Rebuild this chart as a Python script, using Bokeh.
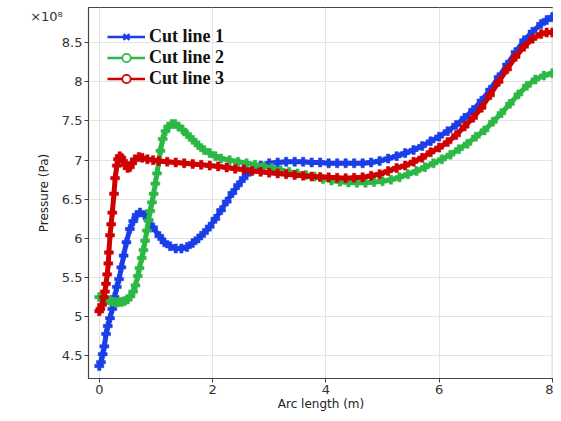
from bokeh.plotting import figure
from bokeh.models import (Range1d, FixedTicker, NumeralTickFormatter, Legend, LegendItem, Label)
from bokeh.embed import file_html
from bokeh.resources import INLINE

# ---- data (pressure in units of 1e8 Pa) ----
x1 = [0, 0.03, 0.06, 0.09, 0.12, 0.15, 0.19, 0.23, 0.27, 0.31, 0.35, 0.39, 0.43, 0.48, 0.54, 0.6,
      0.66, 0.72, 0.8, 0.87, 0.95, 1.06, 1.15, 1.25, 1.35, 1.45, 1.55, 1.65, 1.75, 1.85, 1.95, 2.05,
      2.15, 2.25, 2.35, 2.45, 2.55, 2.65, 2.75, 2.85, 3.0, 3.15, 3.3, 3.45, 3.6, 3.75, 3.9, 4.05,
      4.2, 4.35, 4.5, 4.65, 4.8, 4.95, 5.1, 5.25, 5.4, 5.55, 5.7, 5.85, 6.0, 6.15, 6.3, 6.45, 6.6,
      6.75, 6.9, 7.05, 7.2, 7.35, 7.5, 7.65, 7.8, 7.9, 8.0]
y1 = [4.37, 4.42, 4.52, 4.62, 4.78, 4.88, 4.98, 5.1, 5.25, 5.38, 5.48, 5.63, 5.78, 5.95, 6.12, 6.22,
      6.3, 6.33, 6.3, 6.23, 6.14, 6.03, 5.95, 5.9, 5.87, 5.87, 5.89, 5.94, 6.0, 6.07, 6.15, 6.25,
      6.36, 6.47, 6.58, 6.68, 6.77, 6.85, 6.9, 6.93, 6.96, 6.97, 6.98, 6.98, 6.98, 6.97, 6.97, 6.96,
      6.96, 6.96, 6.96, 6.96, 6.97, 6.99, 7.02, 7.05, 7.09, 7.13, 7.18, 7.24, 7.3, 7.37, 7.45, 7.54, 7.64,
      7.76, 7.9, 8.06, 8.22, 8.38, 8.53, 8.64, 8.74, 8.79, 8.83]

x2 = [0, 0.05, 0.1, 0.15, 0.2, 0.25, 0.3, 0.35, 0.4, 0.45, 0.5, 0.55, 0.6, 0.64, 0.68, 0.71, 0.75,
      0.78, 0.81, 0.84, 0.87, 0.9, 0.93, 0.96, 0.99, 1.02, 1.05, 1.08, 1.12, 1.17, 1.22, 1.28, 1.34,
      1.4, 1.47, 1.55, 1.65, 1.75, 1.85, 1.95, 2.05, 2.15, 2.3, 2.45, 2.6, 2.75, 2.9, 3.05, 3.2, 3.35,
      3.5, 3.65, 3.8, 3.95, 4.1, 4.25, 4.4, 4.55, 4.7, 4.85, 5.0, 5.15, 5.3, 5.45, 5.6, 5.75, 5.9,
      6.05, 6.2, 6.35, 6.5, 6.65, 6.8, 6.95, 7.1, 7.25, 7.4, 7.55, 7.7, 7.85, 8.0]
y2 = [5.25, 5.24, 5.22, 5.21, 5.2, 5.19, 5.185, 5.185, 5.19, 5.2, 5.22, 5.26, 5.32, 5.4, 5.52, 5.62, 5.75,
      5.85, 5.97, 6.1, 6.23, 6.35, 6.46, 6.57, 6.7, 6.83, 6.98, 7.12, 7.27, 7.37, 7.43, 7.46, 7.46,
      7.43, 7.39, 7.33, 7.26, 7.19, 7.13, 7.09, 7.05, 7.02, 7.0, 6.98, 6.96, 6.94, 6.92, 6.9, 6.87, 6.85,
      6.83, 6.81, 6.79, 6.76, 6.74, 6.725, 6.715, 6.71, 6.71, 6.72, 6.73, 6.75, 6.78, 6.82, 6.86, 6.91, 6.96,
      7.01, 7.07, 7.14, 7.21, 7.3, 7.38, 7.49, 7.6, 7.72, 7.84, 7.95, 8.03, 8.08, 8.11]

x3 = [0, 0.02, 0.05, 0.08, 0.1, 0.12, 0.14, 0.16, 0.17, 0.19, 0.21, 0.23, 0.26, 0.28, 0.31, 0.33,
      0.36, 0.39, 0.42, 0.46, 0.5, 0.54, 0.58, 0.63, 0.7, 0.76, 0.85, 0.95, 1.05, 1.2, 1.35, 1.5,
      1.65, 1.8, 1.95, 2.1, 2.25, 2.4, 2.55, 2.7, 2.85, 3.0, 3.15, 3.3, 3.45, 3.6, 3.75, 3.9, 4.05,
      4.2, 4.35, 4.5, 4.65, 4.8, 4.95, 5.1, 5.25, 5.4, 5.55, 5.7, 5.85, 6.0, 6.15, 6.3, 6.45, 6.6,
      6.75, 6.9, 7.05, 7.2, 7.35, 7.5, 7.65, 7.8, 7.9, 8.0]
y3 = [5.07, 5.1, 5.15, 5.25, 5.32, 5.42, 5.54, 5.68, 5.82, 6.04, 6.18, 6.33, 6.57, 6.77, 6.93, 7.01,
      7.05, 7.03, 6.99, 6.94, 6.9, 6.91, 6.96, 7.01, 7.04, 7.03, 7.01, 7.0, 6.99, 6.98, 6.97, 6.96,
      6.95, 6.94, 6.93, 6.92, 6.905, 6.89, 6.88, 6.86, 6.85, 6.84, 6.83, 6.82, 6.81, 6.8, 6.79, 6.785, 6.78,
      6.775, 6.77, 6.775, 6.78, 6.8, 6.82, 6.86, 6.9, 6.93, 6.98, 7.03, 7.1, 7.16, 7.23, 7.32, 7.43, 7.54,
      7.67, 7.83, 8.0, 8.16, 8.32, 8.45, 8.55, 8.61, 8.63, 8.63]

series_names = ["Cut line 1", "Cut line 2", "Cut line 3"]
colors = ["#1a3ee8", "#2db846", "#cf0000"]
x_ticks = [0, 2, 4, 6, 8]
y_ticks = [4.5, 5, 5.5, 6, 6.5, 7, 7.5, 8, 8.5]

p = figure(width=553, height=413, output_backend="svg", toolbar_location=None,
           x_range=Range1d(-0.19, 8.02), y_range=Range1d(4.21, 8.95),
           min_border_left=75, min_border_right=0, min_border_top=7, min_border_bottom=0)
p.background_fill_color = "white"
p.border_fill_color = "white"
p.outline_line_color = "#444444"
p.outline_line_width = 1.2

for ax in (p.xaxis[0], p.yaxis[0]):
    ax.major_label_text_font = "DejaVu Sans"
    ax.major_label_text_font_size = "13px"
    ax.major_label_text_color = "#333333"
    ax.axis_label_text_font = "DejaVu Sans"
    ax.axis_label_text_font_size = "12px"
    ax.axis_label_text_font_style = "normal"
    ax.axis_label_text_color = "#222222"
    ax.axis_line_color = "#444444"
    ax.major_tick_line_color = "#444444"
    ax.major_tick_out = 4
    ax.major_tick_in = 0
    ax.minor_tick_line_color = None
    ax.major_label_standoff = 2
    ax.axis_label_standoff = 0

p.xaxis.ticker = FixedTicker(ticks=x_ticks)
p.yaxis.ticker = FixedTicker(ticks=y_ticks)
p.yaxis.formatter = NumeralTickFormatter(format="0.[0]")
p.xaxis.axis_label = "Arc length (m)"
p.yaxis.axis_label = "Pressure (Pa)"
p.yaxis.axis_label_standoff = 8

p.xgrid.ticker = FixedTicker(ticks=x_ticks)
p.ygrid.ticker = FixedTicker(ticks=y_ticks)
p.grid.grid_line_color = "#e4e4e4"
p.grid.grid_line_width = 1

for xs, ys, c in zip([x1, x2, x3], [y1, y2, y3], colors):
    p.line(xs, ys, line_color=c, line_width=5)
    p.scatter(xs, ys, marker="plus", size=9, fill_color=c, line_color=c, line_width=0.5)

# legend-only renderers (one point placed outside the visible range)
items = []
leg_markers = ["x", "circle", "circle"]
for name, c, m in zip(series_names, colors, leg_markers):
    lr = p.line([-50, -49], [0, 0], line_color=c, line_width=2.5)
    if m == "x":
        sr = p.scatter([-50], [0], marker="x", size=9, line_color=c, line_width=2.5)
    else:
        sr = p.scatter([-50], [0], marker="circle", size=9, line_color=c, line_width=1.8,
                       fill_color="white")
    items.append(LegendItem(label=name, renderers=[lr, sr]))

legend = Legend(items=items, location="top_left",
                label_text_font="Liberation Serif", label_text_font_style="bold",
                label_text_font_size="18px", label_text_color="#111111",
                glyph_width=38, glyph_height=21, label_height=21, label_standoff=4,
                spacing=0, margin=19, padding=0,
                background_fill_alpha=0, border_line_color=None)
p.add_layout(legend)

p.add_layout(Label(x=-1.22, y=8.84, text="×10⁸",
                   text_font="DejaVu Sans", text_font_size="13px",
                   text_color="#333333", text_baseline="middle"), "left")

open("out.html", "w").write(file_html(p, INLINE))
